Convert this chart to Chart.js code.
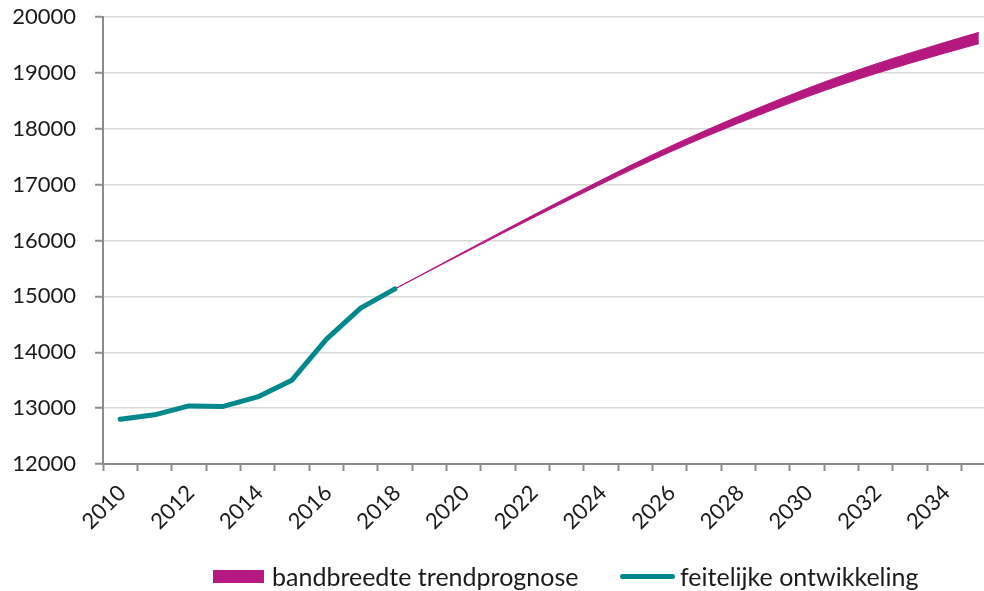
<!DOCTYPE html>
<html>
<head>
<meta charset="utf-8">
<script src="https://cdn.jsdelivr.net/npm/chart.js@4/dist/chart.umd.min.js"></script>
<style>
  html, body { margin: 0; padding: 0; background: #fff; }
  #wrap { position: relative; width: 984px; height: 591px; overflow: hidden; }
  #c { position: absolute; left: 0; top: 0; }
  .leg { position: absolute; top: 561px; height: 30px; display: flex; align-items: center;
         font-family: Lato, sans-serif; font-size: 25px; color: #1a1a1a; white-space: nowrap; }
  .sw-band { width: 51px; height: 13px; background: #b5187f; margin-right: 8px; }
  .sw-line { width: 55px; height: 5px; border-radius: 3px; background: #00888d; margin-right: 5px; }
</style>
</head>
<body>
<div id="wrap">
  <canvas id="c" width="1010" height="591"></canvas>
  <div class="leg" style="left:213px"><span class="sw-band"></span><span>bandbreedte trendprognose</span></div>
  <div class="leg" style="left:620px"><span class="sw-line"></span><span>feitelijke ontwikkeling</span></div>
</div>
<script>
const years = ['2010','2011','2012','2013','2014','2015','2016','2017','2018','2019','2020','2021','2022',
               '2023','2024','2025','2026','2027','2028','2029','2030','2031','2032','2033','2034','2035'];
const actual = [12800, 12880, 13040, 13030, 13200, 13500, 14230, 14790, 15134,
                null, null, null, null, null, null, null, null, null, null, null, null, null, null, null, null, null];
const bandLower = [null, null, null, null, null, null, null, null, 15134,
                   15454, 15772, 16088, 16400, 16706, 17007, 17300, 17580, 17846, 18099, 18341, 18572, 18788, 18987, 19174, 19352, 19523];
const bandUpper = [null, null, null, null, null, null, null, null, 15134,
                   15464, 15794, 16122, 16446, 16766, 17079, 17386, 17680, 17958, 18223, 18477, 18720, 18948, 19159, 19356, 19544, 19725];
const yMin = 12000, yMax = 20000, yStep = 1000;

const BAND = '#b5187f';
const TEAL = '#00888d';
const AXIS = '#8c8c8c';
const GRID = '#d9d9d9';
const FONT = { family: 'Lato, sans-serif', size: 22 };

new Chart(document.getElementById('c'), {
  type: 'line',
  data: {
    labels: years,
    datasets: [
      { label: 'feitelijke ontwikkeling', data: actual, borderColor: TEAL, borderWidth: 5,
        borderCapStyle: 'round', borderJoinStyle: 'round', pointRadius: 0, tension: 0, fill: false },
      { label: 'band lower', data: bandLower, borderColor: BAND, borderWidth: 1, pointRadius: 0,
        cubicInterpolationMode: 'monotone', fill: false },
      { label: 'bandbreedte trendprognose', data: bandUpper, borderColor: BAND, borderWidth: 1, pointRadius: 0,
        cubicInterpolationMode: 'monotone', backgroundColor: BAND, fill: '-1' }
    ]
  },
  options: {
    responsive: false,
    animation: false,
    layout: { padding: { left: 0, right: 14, top: 17, bottom: 0 } },
    plugins: { legend: { display: false }, tooltip: { enabled: false } },
    scales: {
      x: {
        type: 'category',
        offset: true,
        afterFit: s => { s.height = 127; },
        grid: { display: true, offset: true, drawOnChartArea: false, drawTicks: true,
                tickLength: 7, tickColor: AXIS, tickWidth: 2 },
        border: { display: true, color: AXIS, width: 2 },
        ticks: {
          autoSkip: false, maxRotation: 45, minRotation: 45, padding: 9, labelOffset: 2,
          color: '#1a1a1a', font: FONT,
          callback: function (v, i) { return i % 2 === 0 ? this.getLabelForValue(v) : ''; }
        }
      },
      y: {
        min: yMin, max: yMax,
        afterFit: s => { s.width = 103; s.paddingTop = 0; s.paddingBottom = 0; },
        grid: { color: GRID, lineWidth: 1.5, tickLength: 8, tickColor: AXIS, tickWidth: 2, drawTicks: true },
        border: { display: true, color: AXIS, width: 2 },
        ticks: { stepSize: yStep, padding: 19, color: '#1a1a1a', font: FONT,
                 callback: v => String(v) }
      }
    }
  }
});
</script>
</body>
</html>
